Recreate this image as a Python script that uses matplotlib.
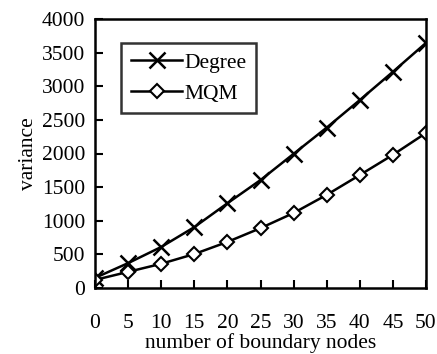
import matplotlib.pyplot as plt

nodes = [0, 5, 10, 15, 20, 25, 30, 35, 40, 45, 50]
degree = [150, 370, 610, 905, 1260, 1605, 1995, 2385, 2795, 3215, 3645]
mqm = [120, 240, 360, 505, 685, 890, 1115, 1385, 1680, 1980, 2305]

plt.rcParams['font.family'] = ['Liberation Serif', 'DejaVu Serif']
plt.rcParams['font.size'] = 15.5

fig = plt.figure(figsize=(4.37, 3.54), dpi=100)
ax = fig.add_axes([95 / 437, 1 - 288 / 354, 331 / 437, 269 / 354])

ax.plot(nodes, degree, color='black', linewidth=1.8, marker='x',
        markersize=11, markeredgewidth=1.8, label='Degree')
ax.plot(nodes, mqm, color='black', linewidth=1.8, marker='D',
        markersize=7, markeredgewidth=1.5, markerfacecolor='white',
        label='MQM')

ax.set_xlim(0, 50)
ax.set_ylim(0, 4000)
ax.set_xticks(nodes)
ax.set_yticks(range(0, 4001, 500))
ax.tick_params(axis='x', direction='in', length=6, width=1.5, pad=19)
ax.tick_params(axis='y', direction='in', length=6, width=1.5, pad=7)
for s in ax.spines.values():
    s.set_linewidth(1.8)

ax.set_xlabel('number of boundary nodes', labelpad=0)
ax.set_ylabel('variance', labelpad=3)

leg = ax.legend(loc='upper left', bbox_to_anchor=(0.0785, 0.911),
                borderaxespad=0, frameon=True, fancybox=False,
                edgecolor='black', handlelength=2.4, handletextpad=0.1,
                borderpad=0.45, labelspacing=0.5)
leg.get_frame().set_linewidth(1.8)

fig.savefig('out.png', dpi=100)
